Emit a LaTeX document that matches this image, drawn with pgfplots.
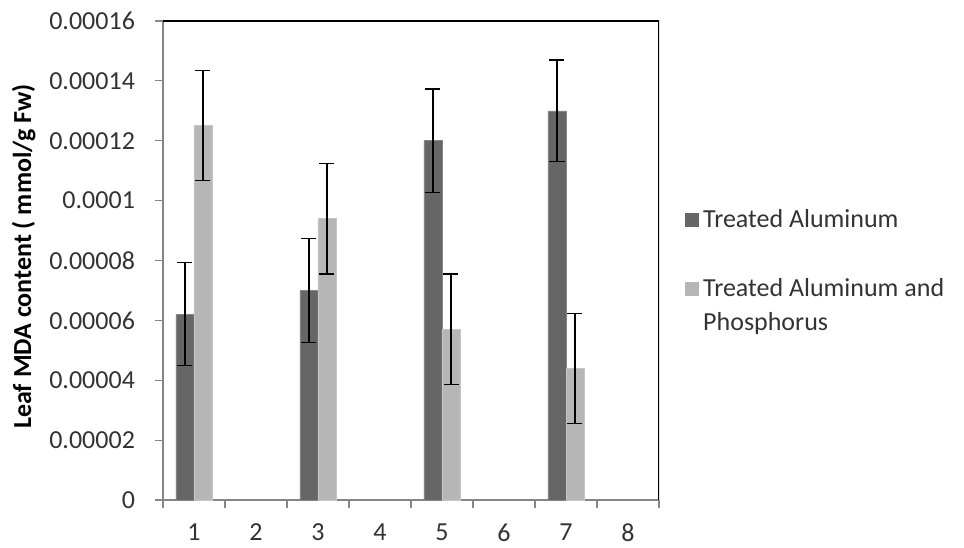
\documentclass[border=0pt]{standalone}
\usepackage{pgfplots}
\pgfplotsset{compat=1.18}
\usepackage{fontspec}
\setmainfont{Carlito}
\definecolor{darkbar}{RGB}{102,102,102}
\definecolor{lightbar}{RGB}{182,182,182}
\definecolor{axgray}{RGB}{134,134,134}
\definecolor{txt}{RGB}{51,51,51}
\begin{document}
\begin{tikzpicture}
\useasboundingbox (-81.5pt,-23.5pt) rectangle (400.5pt,250pt);
\begin{axis}[
  at={(0pt,0pt)}, anchor=south west,
  scale only axis,
  width=248pt, height=239.5pt,
  xmin=0.5, xmax=8.5,
  ymin=0, ymax=0.00016,
  ybar=0pt, bar width=9pt,
  xtick={1,2,3,4,5,6,7,8},
  minor xtick={0.5,1.5,2.5,3.5,4.5,5.5,6.5,7.5,8.5},
  major x tick style={draw=none},
  minor x tick style={draw=axgray, line width=0.6pt},
  minor tick length=4pt,
  ytick={0,0.00002,0.00004,0.00006,0.00008,0.0001,0.00012,0.00014,0.00016},
  yticklabels={0,0.00002,0.00004,0.00006,0.00008,0.0001,0.00012,0.00014,0.00016},
  scaled y ticks=false,
  major y tick style={draw=axgray, line width=0.6pt},
  major tick length=4pt,
  tick align=outside,
  axis x line*=bottom, axis y line*=left,
  axis line style={draw=axgray, line width=0.6pt, -},
  /pgf/number format/assume math mode=true,
  tick label style={font=\fontsize{13}{15.6}\selectfont, text=txt},
  yticklabel style={xshift=-6.5pt},
  xticklabel style={yshift=-4.3pt},
  ylabel={Leaf MDA content ( mmol/g Fw)},
  ylabel style={font=\fontsize{13}{15.6}\selectfont\bfseries, text=black},
  every axis y label/.append style={at={(ticklabel cs:0.5)}, xshift=2pt},
  error bars/error bar style={line width=0.6pt, black},
  error bars/error mark options={rotate=90, mark size=3.75pt, line width=0.6pt, black},
  legend style={at={(1.04,0.625)}, anchor=north west, draw=none, fill=none,
    font=\fontsize{13}{17}\selectfont, text=txt, row sep=20pt,
    nodes={align=left, inner xsep=2pt}},
  legend cell align=left,
]
\addplot[fill=darkbar, draw=darkbar!80!white, line width=0.3pt,
  legend image code/.code={\fill[darkbar, draw=none] (-2.5pt,-3.5pt) rectangle (4.5pt,3.5pt);},
  error bars/.cd, y dir=both, y explicit]
  coordinates {
    (1,0.000062) +- (0,0.0000172)
    (3,0.000070) +- (0,0.0000174)
    (5,0.000120) +- (0,0.0000173)
    (7,0.000130) +- (0,0.0000170)
  };
\addlegendentry{Treated Aluminum}
\addplot[fill=lightbar, draw=lightbar!80!white, line width=0.3pt,
  legend image code/.code={\fill[lightbar, draw=none] (-2.5pt,5pt) rectangle (4.5pt,12pt);
    \path[draw=none, fill=none] (0pt,-12pt) -- (0pt,12pt);},
  error bars/.cd, y dir=both, y explicit]
  coordinates {
    (1,0.000125) +- (0,0.0000184)
    (3,0.000094) +- (0,0.0000185)
    (5,0.000057) +- (0,0.0000185)
    (7,0.000044) +- (0,0.0000184)
  };
\addlegendentry{Treated Aluminum and\\Phosphorus}
\draw[black, line width=0.7pt] (rel axis cs:0,1) -- (rel axis cs:1,1) -- (rel axis cs:1,0);
\end{axis}
\end{tikzpicture}
\end{document}
